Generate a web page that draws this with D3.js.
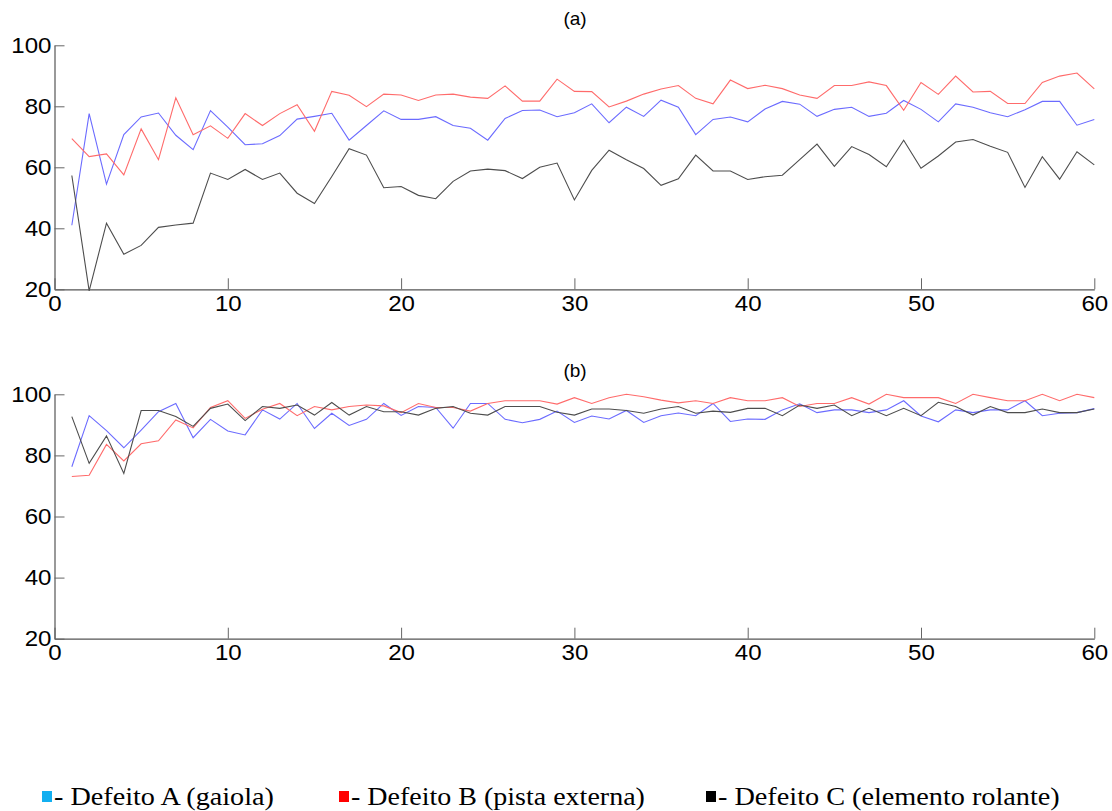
<!DOCTYPE html>
<html>
<head>
<meta charset="utf-8">
<script src="https://cdn.jsdelivr.net/npm/d3@7"></script>
<style>
  html, body { margin: 0; padding: 0; background: #fff; }
  svg { display: block; }
</style>
</head>
<body>
<svg id="chart" width="1112" height="811"></svg>
<script>
// Sample index 1..60
const samples = d3.range(1, 61);

// Panel (a) — accuracy per sample (%)
const aDefeitoA = [41, 77.6, 54.5, 70.7, 76.5, 77.8, 70.5, 65.8, 78.6, 73.2, 67.4, 67.7, 70.4, 75.8, 76.7, 77.7, 68.9, 73.7, 78.5, 75.7,
  75.7, 76.6, 73.7, 72.8, 68.9, 76, 78.6, 78.8, 76.6, 77.9, 80.8, 74.6, 79.7, 76.7, 82, 79.7, 70.7, 75.7, 76.5, 74.9,
  79.1, 81.6, 80.7, 76.7, 79, 79.7, 76.7, 77.7, 81.9, 79, 74.9, 80.8, 79.7, 77.9, 76.6, 78.9, 81.6, 81.6, 73.8, 75.7];
const aDefeitoB = [69.4, 63.5, 64.4, 57.5, 72.6, 62.5, 82.8, 70.7, 73.6, 69.5, 77.6, 73.7, 77.6, 80.5, 71.8, 84.9, 83.6, 79.9, 84, 83.7,
  81.9, 83.7, 84, 83, 82.6, 86.7, 81.7, 81.7, 88.9, 84.9, 84.8, 79.8, 81.7, 84, 85.7, 86.8, 82.6, 80.8, 88.6, 85.8,
  86.9, 85.8, 83.7, 82.6, 86.8, 86.8, 88, 86.8, 78.7, 87.8, 83.9, 89.9, 84.7, 84.9, 80.9, 80.9, 87.8, 89.9, 90.9, 85.7];
const aDefeitoC = [57.3, 19.5, 41.7, 31.5, 34.4, 40.3, 41.1, 41.7, 58.1, 56, 59.3, 56, 58.1, 51.5, 48.1, 57, 66.1, 64, 53.3, 53.7,
  50.8, 49.7, 55.4, 58.8, 59.4, 58.9, 56.3, 60, 61.4, 49.3, 59, 65.6, 62.5, 59.6, 54.1, 56.2, 64, 58.8, 58.8, 56,
  56.9, 57.4, 62.5, 67.6, 60.3, 66.8, 64.2, 60.2, 68.9, 59.7, 63.7, 68.3, 69.1, 66.9, 64.9, 53.4, 63.5, 56.1, 65.1, 60.8];

// Panel (b)
const bDefeitoA = [76.3, 93, 88.1, 82.5, 88.3, 94.3, 97, 85.8, 91.8, 88, 86.7, 94.9, 91.9, 97, 88.8, 93.8, 89.8, 91.8, 97, 93.1,
  96, 95.7, 88.9, 97, 97, 91.8, 90.7, 91.8, 94.5, 90.8, 92.9, 91.9, 94.7, 90.8, 93, 93.9, 93, 97, 91.1, 91.9,
  91.8, 94.9, 96.9, 94, 94.9, 94.9, 94, 94.9, 97.9, 92.9, 91, 94.9, 94, 94.9, 94.9, 97.9, 93, 93.8, 94, 95.3];
const bDefeitoB = [73.1, 73.5, 83.6, 78.2, 83.8, 84.8, 91.6, 89, 95.7, 97.9, 92.1, 95.1, 97, 93, 96, 94.9, 96, 96.5, 96.2, 94,
  97, 95.7, 95.7, 94.5, 97, 97.9, 97.9, 97.9, 96.8, 98.9, 97, 98.9, 100, 99.2, 98.1, 97.2, 97.9, 97, 98.9, 97.9,
  97.9, 98.9, 96, 97, 97, 98.9, 96.8, 100, 98.9, 98.9, 98.9, 97, 100, 98.9, 97.9, 97.9, 100, 97.9, 100, 98.9];
const bDefeitoC = [92.7, 77.4, 86.4, 74.1, 94.7, 94.7, 92.7, 89.5, 95.4, 96.8, 91.4, 96, 95.4, 96.5, 93.2, 97.3, 93.2, 96, 94.3, 94.3,
  93.2, 95.4, 96, 93.8, 93.2, 96, 96, 96, 94.1, 93.2, 95.2, 95.2, 94.7, 93.8, 95.2, 96, 93.8, 94.5, 94.1, 95.4,
  95.4, 93, 96.5, 95.4, 96.5, 93, 95.4, 93, 95.4, 93, 97.4, 96, 93.2, 96, 94, 94, 95.2, 94, 94, 95.2];

const xTicks = [0, 10, 20, 30, 40, 50, 60];
const yTicks = [20, 40, 60, 80, 100];
const panelTitles = ["(a)", "(b)"];
const legendLabels = ["- Defeito A (gaiola)", "- Defeito B (pista externa)", "- Defeito C (elemento rolante)"];

const lineColors = ["#6b6bff", "#ff6b6b", "#4d4d4d"];
const legendColors = ["#12aff0", "#ff0000", "#000000"];

const svg = d3.select("#chart");

const x = d3.scaleLinear().domain([0, 60]).range([54.5, 1094.3]);

const panels = [
  { title: panelTitles[0], top: 45.3, bottom: 289.3, titleY: 18, series: [aDefeitoA, aDefeitoB, aDefeitoC] },
  { title: panelTitles[1], top: 394.3, bottom: 638.7, titleY: 370, series: [bDefeitoA, bDefeitoB, bDefeitoC] }
];

const tickFont = "'Liberation Sans', Arial, sans-serif";

panels.forEach(p => {
  const y = d3.scaleLinear().domain([20, 100]).range([p.bottom, p.top]);
  const g = svg.append("g");

  // data lines
  const line = d3.line()
    .x((d, i) => x(samples[i]))
    .y(d => y(d));
  p.series.forEach((s, k) => {
    g.append("path")
      .datum(s)
      .attr("fill", "none")
      .attr("stroke", lineColors[k])
      .attr("stroke-width", 1.1)
      .attr("stroke-linejoin", "miter")
      .attr("d", line);
  });

  // x axis (ticks pointing inward)
  const xAxis = g.append("g")
    .attr("transform", `translate(0,${p.bottom})`)
    .call(d3.axisBottom(x).tickValues(xTicks).tickFormat(d3.format("d"))
      .tickSizeInner(-11).tickSizeOuter(0).tickPadding(6));

  // y axis
  const yAxis = g.append("g")
    .attr("transform", `translate(${x(0)},0)`)
    .call(d3.axisLeft(y).tickValues(yTicks).tickFormat(d3.format("d"))
      .tickSizeInner(-10).tickSizeOuter(0).tickPadding(3));

  [xAxis, yAxis].forEach(ax => {
    ax.select(".domain").attr("stroke", "#555").attr("stroke-width", 1.2);
    ax.selectAll(".tick line").attr("stroke", "#666").attr("stroke-width", 1);
    ax.selectAll(".tick text")
      .attr("fill", "#000")
      .style("font-family", tickFont)
      .style("font-size", "22px")
      .attr("textLength", d => String(d).length * 13.4)
      .attr("lengthAdjust", "spacingAndGlyphs");
  });

  // panel title
  g.append("text")
    .attr("x", 575)
    .attr("y", p.titleY)
    .attr("text-anchor", "middle")
    .attr("dominant-baseline", "central")
    .style("font-family", tickFont)
    .style("font-size", "19px")
    .attr("fill", "#000")
    .text(p.title);
});

// legend: coloured square followed by label, each label stretched to its slot width
const legendItems = [
  { sx: 42, tx: 54, tw: 220 },
  { sx: 339, tx: 351, tw: 294 },
  { sx: 706, tx: 718, tw: 342 }
];
const legend = svg.append("g");
legendItems.forEach((it, k) => {
  legend.append("rect")
    .attr("x", it.sx).attr("y", 791)
    .attr("width", 10).attr("height", 11)
    .attr("fill", legendColors[k]);
  const t = legend.append("text")
    .attr("x", 0).attr("y", 0)
    .style("font-family", "'Liberation Serif', 'DejaVu Serif', serif")
    .style("font-size", "26px")
    .attr("fill", "#000")
    .text(legendLabels[k]);
  const natural = t.node().getComputedTextLength();
  t.attr("transform", `translate(${it.tx},805) scale(${it.tw / natural},1)`);
});
</script>
</body>
</html>
